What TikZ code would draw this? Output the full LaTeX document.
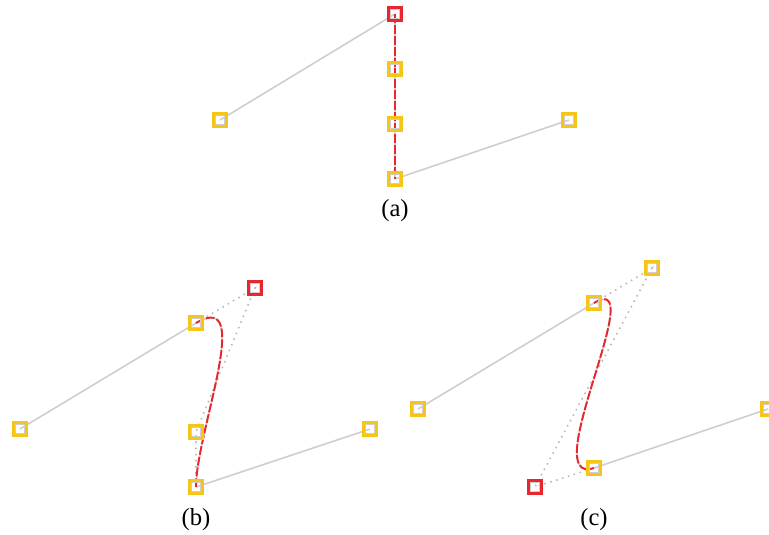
\documentclass[tikz,border=0pt]{standalone}
\usepackage{fontspec}
\setmainfont{Liberation Serif}
\usetikzlibrary{backgrounds}
\definecolor{ptyellow}{HTML}{F5C518}
\definecolor{ptred}{HTML}{E8262C}
\definecolor{ptgray}{HTML}{CFCDCF}
\tikzset{
  pt/.style={draw=ptyellow, line width=1.2pt, minimum size=7.4pt, inner sep=0pt,
    path picture={\draw[ptgray, line width=0.9pt]
      ([shift={(1.1pt,1.1pt)}]path picture bounding box.south west) rectangle
      ([shift={(-1.1pt,-1.1pt)}]path picture bounding box.north east);}},
  ptsel/.style={pt, draw=ptred},
  segline/.style={ptgray, line width=0.9pt},
  ctrlline/.style={ptgray!90!black, line width=0.9pt, dash pattern=on 0.9pt off 2.6pt},
  curveline/.style={ptred, line width=1.1pt, dash pattern=on 5pt off 1.2pt},
  lbl/.style={font=\fontsize{14}{16}\selectfont}
}
\begin{document}
\begin{tikzpicture}[x=0.02cm, y=-0.02cm]
			%%%%% START %%%%%
			\useasboundingbox (0, 0) rectangle (769, 535);
			
			% (a)
			\node[pt] (a_left) at (220, 120) {};
			\node[ptsel] (a0) at (395, 14) {};
			\node[pt] (a1) at (395, 69) {};
			\node[pt] (a2) at (395, 124) {};
			\node[pt] (a3) at (395, 179) {};
			\node[pt] (a_right) at (569, 120) {};
			\node[lbl] (a_lbl) at (395, 211) {(a)};
			
			% (b)
			\node[pt] (b_left) at (20, 429) {};
			\node[pt] (b0) at (196, 323) {};
			\node[ptsel] (b1) at (255, 288) {};
			\node[pt] (b2) at (196, 432) {};
			\node[pt] (b3) at (196, 487) {};
			\node[pt] (b_right) at (370, 429) {};
			\node[lbl] (b_lbl) at (196, 520) {(b)};
			
			% (c)
			\node[pt] (c_left) at (418, 409) {};
			\node[pt] (c0) at (594, 303) {};
			\node[pt] (c1) at (652, 268) {};
			\node[ptsel] (c2) at (535, 487) {};
			\node[pt] (c3) at (594, 468) {};
			\node[pt] (c_right) at (768, 409) {};
			\node[lbl] (c_lbl) at (594, 520) {(c)};
			
			\begin{pgfonlayer}{background}
			\foreach \s in {a, b, c} {
				\draw[segline] (\s_left.center) -- (\s0.center);
				\draw[segline] (\s3.center) -- (\s_right.center);
				\draw[ctrlline] (\s0.center) -- (\s1.center) -- (\s2.center) -- (\s3.center);
				\draw[segline] (\s0.center) .. controls (\s1.center) and (\s2.center) .. (\s3.center);
				\draw[curveline] (\s0.center) .. controls (\s1.center) and (\s2.center) .. (\s3.center);
			}
			\end{pgfonlayer}
			%%%%% END %%%%%
\end{tikzpicture}
\end{document}
